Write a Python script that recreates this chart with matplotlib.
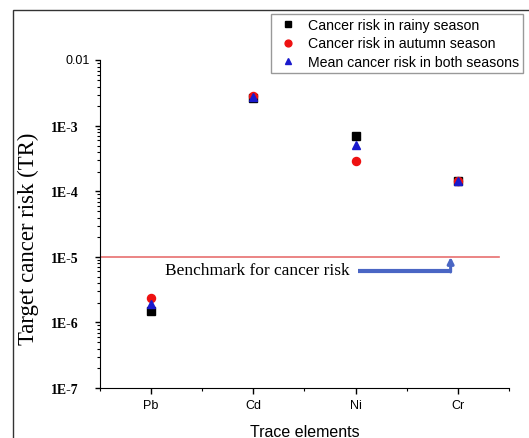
import matplotlib
matplotlib.use("Agg")
import matplotlib.pyplot as plt
from matplotlib.patches import Rectangle
from matplotlib.ticker import FixedLocator, LogLocator, NullFormatter
import matplotlib.transforms as mtransforms

elements = ['Pb', 'Cd', 'Ni', 'Cr']
rainy = [1.5e-6, 2.7e-3, 7.1e-4, 1.43e-4]
autumn = [2.35e-6, 2.9e-3, 2.9e-4, 1.43e-4]
mean_both = [1.9e-6, 2.75e-3, 5.1e-4, 1.43e-4]
benchmark = 1e-5
y_ticks = [1e-7, 1e-6, 1e-5, 1e-4, 1e-3, 1e-2]
y_ticklabels = ['1E-7', '1E-6', '1E-5', '1E-4', '1E-3', '']

serif = 'Liberation Serif'
sans = 'Liberation Sans'

fig = plt.figure(figsize=(5.29, 4.39), dpi=100)
ax = fig.add_axes([0.189, 0.114, 0.773, 0.746])

# outer frame of the original figure (cut at right/bottom)
fig.patches.append(Rectangle((13 / 529, -0.1), 1.2, 1 - 11 / 439 + 0.1, transform=fig.transFigure,
                             fill=False, edgecolor='#333333', linewidth=1.0))

x = list(range(1, len(elements) + 1))
ax.plot(x, rainy, linestyle='none', marker='s', color='black', markersize=5.2,
        label='Cancer risk in rainy season')
ax.plot(x, autumn, linestyle='none', marker='o', color='#ee1111', markersize=5.8,
        label='Cancer risk in autumn season')
ax.plot(x, mean_both, linestyle='none', marker='^', color='#1a1acc', markersize=5.8,
        label='Mean cancer risk in both seasons')

ax.axhline(benchmark, xmin=0, xmax=0.976, color='#e87070', linewidth=1.2)

# benchmark label and bent arrow
arrow_x0, arrow_x1, arrow_y = 3.02, 3.93, 6.0e-6
ax.text(1.14, arrow_y * 1.05, 'Benchmark for cancer risk', family=serif, fontsize=12.5,
        va='center', ha='left')
ax.plot([arrow_x0, arrow_x1], [arrow_y, arrow_y], color='#4a66c4', linewidth=3, solid_capstyle='butt')
ax.annotate('', xy=(arrow_x1, benchmark), xytext=(arrow_x1, arrow_y * 0.985),
            arrowprops=dict(arrowstyle='-|>', color='#4a66c4', lw=2.2, mutation_scale=9,
                            shrinkA=0, shrinkB=0))

ax.set_yscale('log')
ax.set_ylim(1e-7, 1e-2)
ax.set_xlim(0.5, 4.5)

ax.set_xticks(x)
ax.set_xticklabels(elements, family=sans, fontsize=9)
ax.xaxis.set_minor_locator(FixedLocator([0.5, 1.5, 2.5, 3.5, 4.5]))

ax.yaxis.set_major_locator(FixedLocator(y_ticks))
ax.set_yticklabels(y_ticklabels, family=serif, fontsize=10, fontweight='bold')
ax.yaxis.set_minor_locator(LogLocator(base=10, subs=range(2, 10)))
ax.yaxis.set_minor_formatter(NullFormatter())
# the top label is set in a sans font and sits closer to the axis
trans = mtransforms.blended_transform_factory(ax.transAxes, ax.transData)
ax.text(-0.025, 1e-2, '0.01', transform=trans, family=sans, fontsize=9, ha='right', va='center')

ax.tick_params(axis='y', which='major', direction='out', length=3.5, width=1, pad=12)
ax.tick_params(axis='x', which='major', direction='out', length=4, width=1, pad=4)
ax.tick_params(axis='both', which='minor', direction='out', length=2.5, width=0.8)
ax.spines['top'].set_visible(False)
ax.spines['right'].set_visible(False)

ax.set_ylabel('Target cancer risk (TR)', family=serif, fontsize=16.4)
ax.yaxis.set_label_coords(-0.149, 0.458)
ax.set_xlabel('Trace elements', family=sans, fontsize=11.5, labelpad=9)

ax.legend(loc='upper right', bbox_to_anchor=(523 / 529, 1 - 15 / 439), bbox_transform=fig.transFigure,
          prop={'family': sans, 'size': 10.2}, frameon=True, fancybox=False, framealpha=1,
          edgecolor='#999999', handletextpad=0.5, labelspacing=0.3, borderpad=0.3,
          borderaxespad=0, handlelength=1.8, markerscale=0.85)

fig.savefig('out.png', dpi=100)
